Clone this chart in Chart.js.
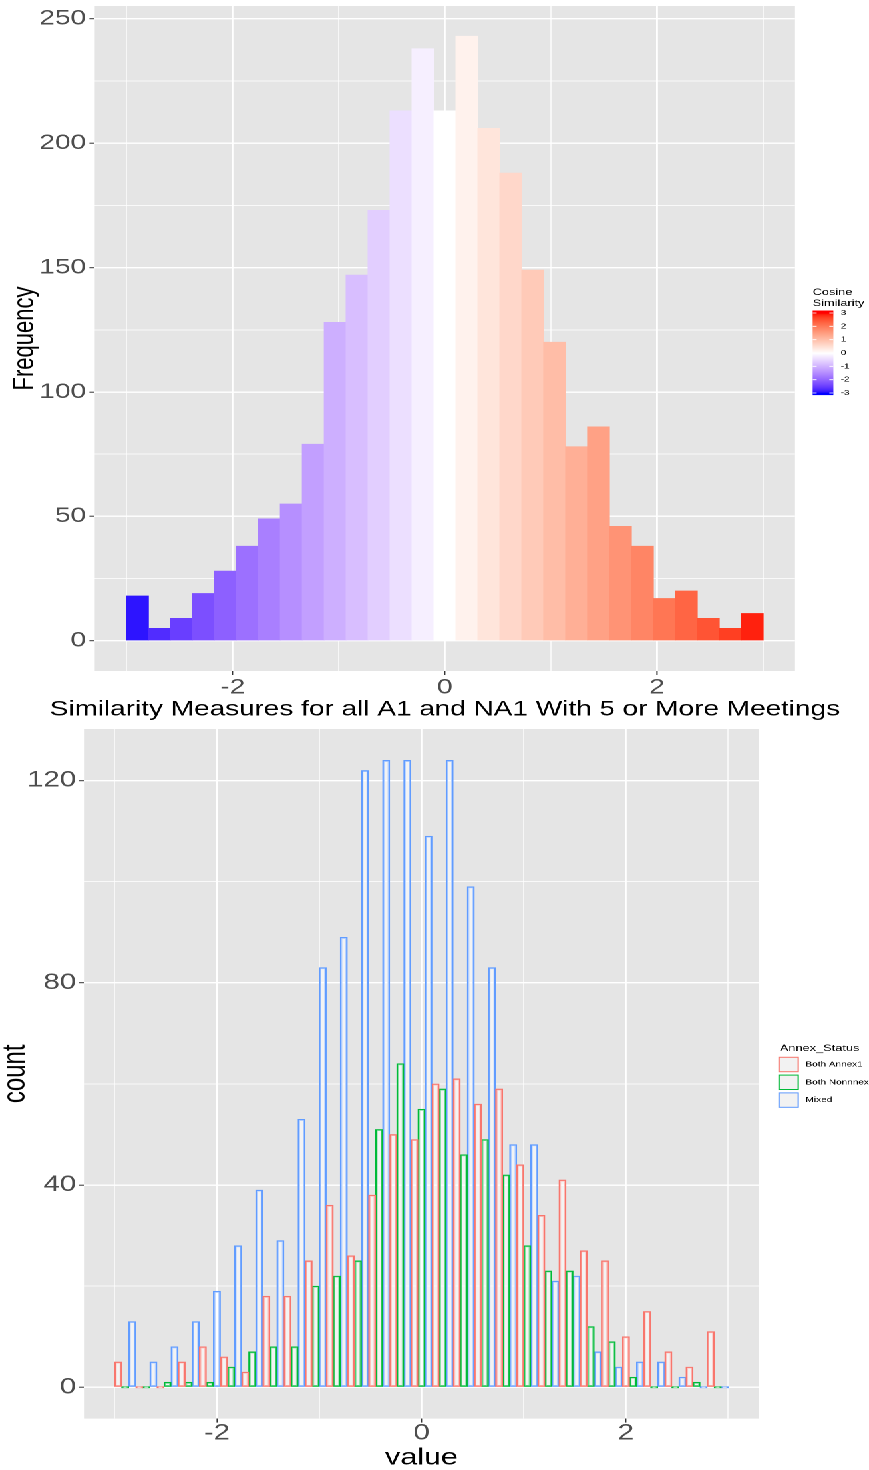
<!DOCTYPE html>
<html>
<head>
<meta charset="utf-8">
<script src="https://cdn.jsdelivr.net/npm/chart.js@4.4.1/dist/chart.umd.min.js"></script>
<style>
  html, body { margin: 0; padding: 0; background: #fff; overflow: hidden; }
  /* the reference is stretched sideways, so draw narrow and widen */
  #stage { position: absolute; left: 0; top: 0; width: 653px; height: 1470px; transform: scaleX(1.33078); transform-origin: 0 0; }
  .box { position: absolute; left: 0; width: 653px; }
</style>
</head>
<body>
<div id="stage">
  <div class="box" style="top:0;height:722px"><canvas id="topChart"></canvas></div>
  <div class="box" style="top:722px;height:748px"><canvas id="bottomChart"></canvas></div>
</div>
<script>
const FONT = "'Liberation Sans', Arial, sans-serif";
Chart.defaults.font.family = FONT;

// bin centres shared by both histograms
const binCenters = [-2.897, -2.690, -2.483, -2.276, -2.069, -1.862, -1.655, -1.448, -1.241, -1.034,
  -0.828, -0.621, -0.414, -0.207, 0, 0.207, 0.414, 0.621, 0.828, 1.034,
  1.241, 1.448, 1.655, 1.862, 2.069, 2.276, 2.483, 2.690, 2.897];
const frequency = [18, 5, 9, 19, 28, 38, 49, 55, 79, 128, 147, 173, 213, 238, 213, 243, 206, 188, 149, 120,
  78, 86, 46, 38, 17, 20, 9, 5, 11];

const groupNames = ['Both Annex1', 'Both Nonnnex', 'Mixed'];
const bothAnnex1 = [5, 0, 0, 5, 8, 6, 3, 18, 18, 25, 36, 26, 38, 50, 49, 60, 61, 56, 59, 44, 34, 41, 27, 25, 10, 15, 7, 4, 11];
const bothNonannex = [0, 0, 1, 1, 1, 4, 7, 8, 8, 20, 22, 25, 51, 64, 55, 59, 46, 49, 42, 28, 23, 23, 12, 9, 2, 0, 0, 1, 0];
const mixed = [13, 5, 8, 13, 19, 28, 39, 29, 53, 83, 89, 122, 124, 124, 109, 124, 99, 83, 48, 48, 21, 22, 7, 4, 5, 5, 2, 0, 0];

const xTicks = [-3, -2, -1, 0, 1, 2, 3];
const xLabels = [-2, 0, 2];
const freqTicks = [0, 25, 50, 75, 100, 125, 150, 175, 200, 225, 250];
const freqLabels = [0, 50, 100, 150, 200, 250];
const countTicks = [0, 20, 40, 60, 80, 100, 120];
const countLabels = [0, 40, 80, 120];
const legendTicks = [3, 2, 1, 0, -1, -2, -3];

const groupColours = ['#F8766D', '#00BA38', '#619CFF'];
const groupCounts = [bothAnnex1, bothNonannex, mixed];

// blue - white - red gradient, mixed in Lab like ggplot
function toLin(c) { c /= 255; return c <= 0.04045 ? c / 12.92 : Math.pow((c + 0.055) / 1.055, 2.4); }
function fromLin(c) {
  c = c <= 0.0031308 ? 12.92 * c : 1.055 * Math.pow(c, 1 / 2.4) - 0.055;
  return Math.round(Math.max(0, Math.min(1, c)) * 255);
}
function hexToLab(h) {
  const [r, g, b] = [1, 3, 5].map(i => toLin(parseInt(h.slice(i, i + 2), 16)));
  const f = t => t > 0.008856 ? Math.cbrt(t) : 7.787 * t + 16 / 116;
  const fx = f((0.4124 * r + 0.3576 * g + 0.1805 * b) / 0.95047);
  const fy = f(0.2126 * r + 0.7152 * g + 0.0722 * b);
  const fz = f((0.0193 * r + 0.1192 * g + 0.9505 * b) / 1.08883);
  return [116 * fy - 16, 500 * (fx - fy), 200 * (fy - fz)];
}
function labToCss([L, a, b]) {
  const fy = (L + 16) / 116, fx = fy + a / 500, fz = fy - b / 200;
  const inv = t => t * t * t > 0.008856 ? t * t * t : (t - 16 / 116) / 7.787;
  const x = inv(fx) * 0.95047, y = inv(fy), z = inv(fz) * 1.08883;
  const rgb = [3.2406 * x - 1.5372 * y - 0.4986 * z, -0.9689 * x + 1.8758 * y + 0.0415 * z, 0.0557 * x - 0.2040 * y + 1.0570 * z];
  return 'rgb(' + rgb.map(fromLin).join(',') + ')';
}
const LOW = hexToLab('#0000FF'), MID = hexToLab('#FFFFFF'), HIGH = hexToLab('#FF0000');
function simColour(v) {
  const s = Math.min(1, Math.abs(v) / 3);
  const end = v < 0 ? LOW : HIGH;
  return labToCss(MID.map((m, i) => m + (end[i] - m) * s));
}

const panelBg = {
  id: 'panelBg',
  beforeDraw(chart) {
    const { ctx, chartArea: a } = chart;
    ctx.save();
    ctx.fillStyle = '#E5E5E5';
    ctx.fillRect(a.left, a.top, a.right - a.left, a.bottom - a.top);
    ctx.restore();
  }
};

const topXTitle = {
  id: 'topXTitle',
  afterDraw(chart) {
    const { ctx, chartArea: a } = chart;
    ctx.save();
    ctx.font = '21px ' + FONT;
    ctx.fillStyle = '#000';
    ctx.textAlign = 'center';
    ctx.textBaseline = 'middle';
    ctx.fillText('Similarity Measures for all A1 and NA1 With 5 or More Meetings', (a.left + a.right) / 2, 709.5);
    ctx.restore();
  }
};

const colourbar = {
  id: 'colourbar',
  afterDraw(chart) {
    const ctx = chart.ctx;
    const x0 = 610.7, w = 15.5, yTop = 313, yBot = 393;
    const yOf = v => yTop + (3 - v) / 6 * (yBot - yTop);
    ctx.save();
    ctx.fillStyle = '#000';
    ctx.font = '9.6px ' + FONT;
    ctx.textAlign = 'left';
    ctx.textBaseline = 'alphabetic';
    ctx.fillText('Cosine', x0, 295);
    ctx.fillText('Similarity', x0, 306);
    for (let y = yTop - 2.5; y < yBot + 2; y += 0.5) {
      const v = Math.max(-3, Math.min(3, 3 - (y - yTop) / (yBot - yTop) * 6));
      ctx.fillStyle = simColour(v);
      ctx.fillRect(x0, y, w, 0.6);
    }
    ctx.strokeStyle = '#fff';
    ctx.lineWidth = 0.8;
    ctx.font = '7.5px ' + FONT;
    ctx.textBaseline = 'middle';
    ctx.fillStyle = '#000';
    legendTicks.forEach(v => {
      const y = yOf(v);
      ctx.beginPath();
      ctx.moveTo(x0, y); ctx.lineTo(x0 + 3, y);
      ctx.moveTo(x0 + w - 3, y); ctx.lineTo(x0 + w, y);
      ctx.stroke();
      ctx.fillText(String(v), x0 + w + 5.5, y);
    });
    ctx.restore();
  }
};

const groupLegend = {
  id: 'groupLegend',
  afterDraw(chart) {
    const ctx = chart.ctx;
    const x0 = 584.8, k = 15.6;
    const keyTops = [334.7, 352.5, 370.3];
    ctx.save();
    ctx.fillStyle = '#000';
    ctx.font = '9.6px ' + FONT;
    ctx.textAlign = 'left';
    ctx.textBaseline = 'alphabetic';
    ctx.fillText('Annex_Status', 586.1, 329);
    ctx.font = '7.5px ' + FONT;
    ctx.textBaseline = 'middle';
    groupNames.forEach((name, g) => {
      const y = keyTops[g];
      ctx.fillStyle = '#F2F2F2';
      ctx.fillRect(x0, y, k, k);
      ctx.strokeStyle = groupColours[g];
      ctx.lineWidth = 1;
      ctx.strokeRect(x0 + 0.6, y + 0.6, k - 1.2, k - 1.2);
      ctx.fillStyle = '#000';
      ctx.fillText(name, 605.4, y + k / 2);
    });
    ctx.restore();
  }
};

function makeAxis(o) {
  const major = c => c.tick && o.labels.includes(c.tick.value);
  return {
    type: 'linear',
    min: o.min,
    max: o.max,
    offset: false,
    afterBuildTicks: s => { s.ticks = o.ticks.map(v => ({ value: v })); },
    afterFit: s => {
      if (s.isHorizontal()) s.height = o.size; else s.width = o.size;
      // labels are not at the ends, so no room is needed for them there
      s.paddingTop = s.paddingBottom = s.paddingLeft = s.paddingRight = 0;
    },
    border: { display: false },
    grid: {
      offset: false,
      color: '#FFFFFF',
      lineWidth: c => major(c) ? 1.4 : 0.7,
      tickColor: c => major(c) ? '#333333' : 'rgba(0,0,0,0)',
      tickLength: 4,
      tickWidth: 1
    },
    ticks: {
      autoSkip: false,
      maxRotation: 0,
      padding: o.pad,
      color: '#4D4D4D',
      font: { size: o.font, lineHeight: 1 },
      callback: v => o.labels.includes(v) ? String(v) : ''
    },
    title: o.title || { display: false }
  };
}

new Chart(document.getElementById('topChart'), {
  type: 'bar',
  data: {
    datasets: [{
      label: 'Frequency',
      data: binCenters.map((x, i) => ({ x: x, y: frequency[i] })),
      backgroundColor: binCenters.map(simColour),
      borderWidth: 0,
      barPercentage: 1,
      categoryPercentage: 1
    }]
  },
  options: {
    responsive: true,
    maintainAspectRatio: false,
    animation: false,
    devicePixelRatio: 2,
    layout: { padding: { left: 0, top: 6, right: 55.6, bottom: 0 } },
    plugins: { legend: { display: false }, tooltip: { enabled: false } },
    scales: {
      x: makeAxis({ ticks: xTicks, labels: xLabels, min: -3.3, max: 3.3, size: 51, font: 21, pad: 2 }),
      y: makeAxis({
        ticks: freqTicks, labels: freqLabels, min: -12.15, max: 255.15, size: 71.2, font: 21, pad: 2.6,
        title: { display: true, text: 'Frequency', color: '#000', font: { size: 22, lineHeight: 1 }, padding: { top: 7.8, bottom: 0 } }
      })
    }
  },
  plugins: [panelBg, topXTitle, colourbar]
});

new Chart(document.getElementById('bottomChart'), {
  type: 'bar',
  data: {
    datasets: groupNames.map((name, g) => ({
      label: name,
      data: binCenters.map((x, i) => ({ x: x, y: groupCounts[g][i] })),
      backgroundColor: 'rgba(255,255,255,0.55)',
      borderColor: groupColours[g],
      borderWidth: 1.2,
      borderSkipped: false,
      minBarLength: 1.4,
      barPercentage: 1,
      categoryPercentage: 1
    }))
  },
  options: {
    responsive: true,
    maintainAspectRatio: false,
    animation: false,
    devicePixelRatio: 2,
    layout: { padding: { left: 0, top: 7, right: 82.7, bottom: 0 } },
    plugins: { legend: { display: false }, tooltip: { enabled: false } },
    scales: {
      x: makeAxis({
        ticks: xTicks, labels: xLabels, min: -3.3, max: 3.3, size: 51.4, font: 22, pad: 0,
        title: { display: true, text: 'value', color: '#000', font: { size: 23, lineHeight: 1 }, padding: { top: 0, bottom: 0.5 } }
      }),
      y: makeAxis({
        ticks: countTicks, labels: countLabels, min: -6.2, max: 130.2, size: 63.1, font: 22, pad: 2,
        title: { display: true, text: 'count', color: '#000', font: { size: 24, lineHeight: 1 }, padding: { top: 0, bottom: 0 } }
      })
    }
  },
  plugins: [panelBg, groupLegend]
});
</script>
</body>
</html>
